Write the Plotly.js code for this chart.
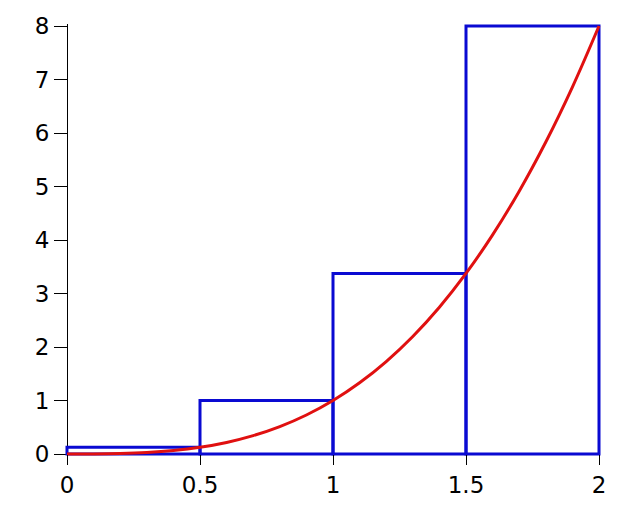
<!DOCTYPE html>
<html>
<head>
<meta charset="utf-8">
<script src="https://cdn.plot.ly/plotly-3.0.1.min.js"></script>
<style>html,body{margin:0;padding:0;background:#fff;}#chart{width:640px;height:512px;}</style>
</head>
<body>
<div id="chart"></div>
<script>
// Rectangle (right-endpoint) data
var rectCenters = [0.25, 0.75, 1.25, 1.75];
var rectHeights = [0.125, 1, 3.375, 8];
var rectWidth = 0.5;

// Curve samples
var curveX = [0, 0.1, 0.2, 0.3, 0.4, 0.5, 0.6, 0.7, 0.8, 0.9, 1.0, 1.1, 1.2, 1.3, 1.4, 1.5, 1.6, 1.7, 1.8, 1.9, 2.0];
var curveY = [0, 0.001, 0.008, 0.027, 0.064, 0.125, 0.216, 0.343, 0.512, 0.729, 1.0, 1.331, 1.728, 2.197, 2.744, 3.375, 4.096, 4.913, 5.832, 6.859, 8.0];

var xTicks = [0, 0.5, 1, 1.5, 2];
var xTickLabels = ["0", "0.5", "1", "1.5", "2"];
var yTicks = [0, 1, 2, 3, 4, 5, 6, 7, 8];
var yTickLabels = ["0", "1", "2", "3", "4", "5", "6", "7", "8"];

var blue = "#0a0ad2";
var red = "#e01010";

// small padding (in px) so edge strokes are not clipped
var padPx = 2;
var plotW = 536, plotH = 432;
var xPad = padPx * 2 / (plotW - 2 * padPx);
var yPad = padPx * 8 / (plotH - 2 * padPx);

var traces = [
  {
    type: "bar",
    x: rectCenters,
    y: rectHeights,
    width: rectWidth,
    marker: {color: "rgba(0,0,0,0)", line: {color: blue, width: 3}},
    hoverinfo: "skip"
  },
  {
    type: "scatter",
    mode: "lines",
    x: curveX,
    y: curveY,
    line: {color: red, width: 3, shape: "spline"},
    hoverinfo: "skip"
  }
];

var layout = {
  width: 640,
  height: 512,
  margin: {l: 65, r: 39, t: 24, b: 56},
  paper_bgcolor: "#ffffff",
  plot_bgcolor: "#ffffff",
  showlegend: false,
  bargap: 0,
  font: {family: "DejaVu Sans", size: 23, color: "#000"},
  xaxis: {
    range: [0 - xPad, 2 + xPad],
    tickvals: xTicks,
    ticktext: xTickLabels,
    ticks: "outside",
    ticklen: 10,
    tickwidth: 1,
    tickcolor: "#000",
    showgrid: false,
    zeroline: false,
    showline: false,
    anchor: "free",
    position: padPx / plotH,
    fixedrange: true
  },
  yaxis: {
    range: [0 - yPad, 8 + yPad],
    tickvals: yTicks,
    ticktext: yTickLabels,
    ticks: "outside",
    ticklen: 13,
    tickwidth: 1,
    tickcolor: "#000",
    showgrid: false,
    zeroline: false,
    showline: true,
    linecolor: "#000",
    linewidth: 1,
    layer: "below traces",
    anchor: "free",
    position: padPx / plotW,
    fixedrange: true
  }
};

Plotly.newPlot("chart", traces, layout, {displayModeBar: false, staticPlot: true});
</script>
</body>
</html>
